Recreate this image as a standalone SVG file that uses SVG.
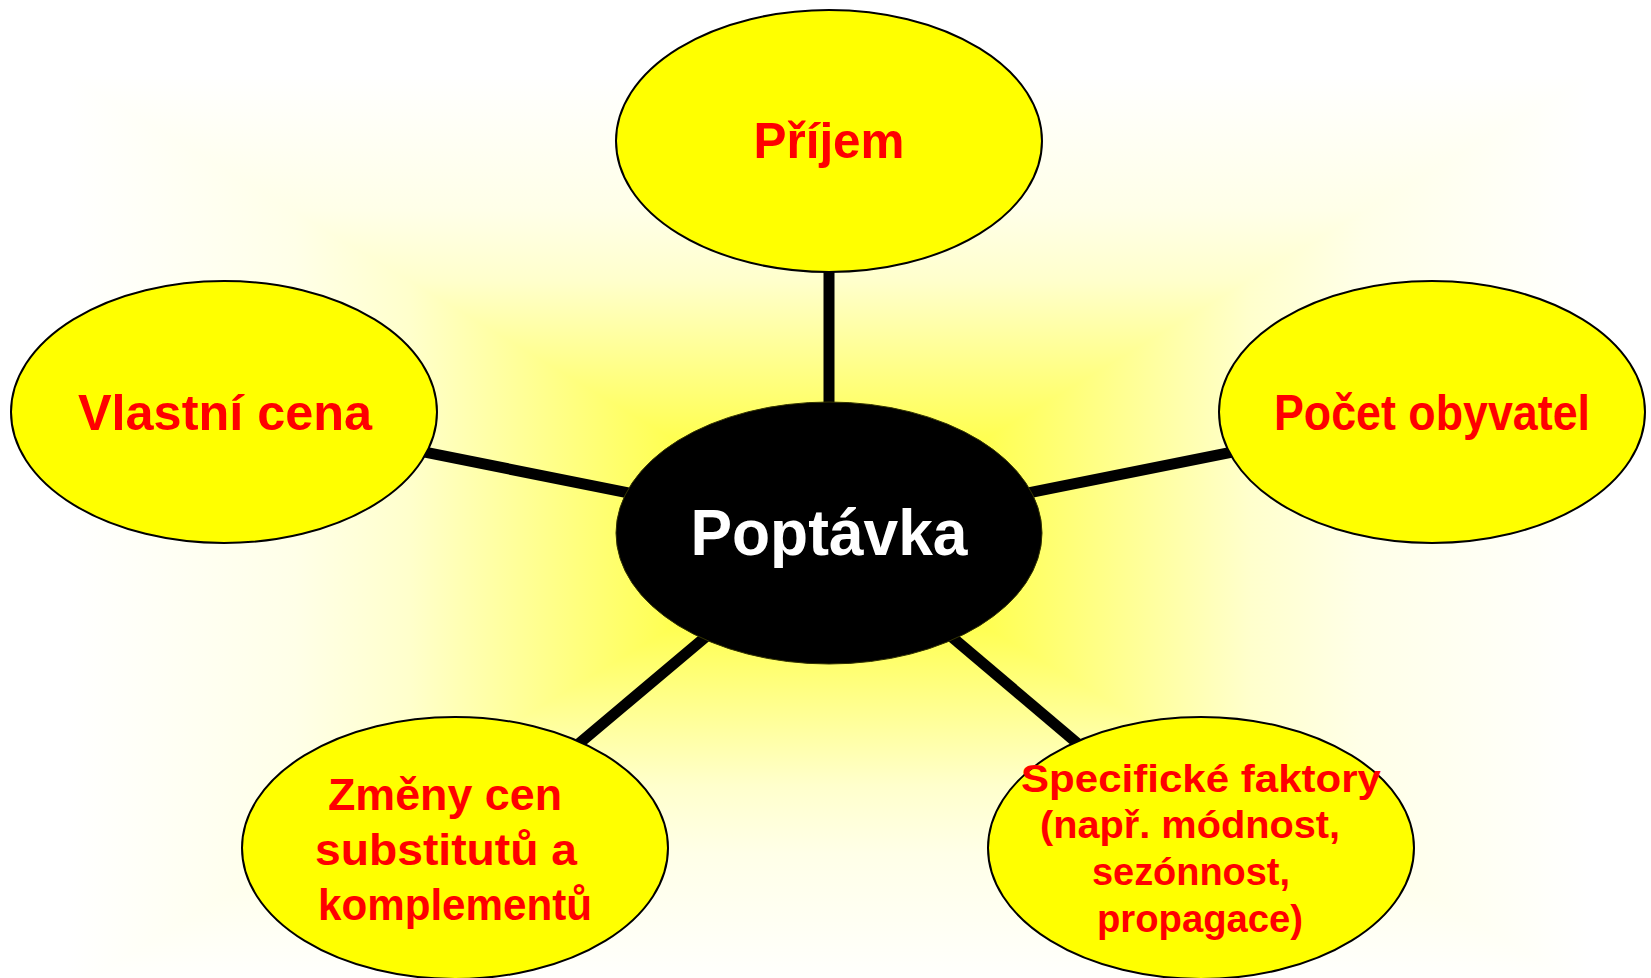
<svg xmlns="http://www.w3.org/2000/svg" width="1651" height="978" viewBox="0 0 1651 978">
  <defs>
    <linearGradient id="gV" gradientUnits="userSpaceOnUse" x1="0" y1="74" x2="0" y2="992">
      <stop offset="0" stop-color="#FFFFFF"/>
      <stop offset="0.15" stop-color="#FFFFE8"/>
      <stop offset="0.225" stop-color="#FFFFCC"/>
      <stop offset="0.325" stop-color="#FFFF85"/>
      <stop offset="0.4" stop-color="#FFFF50"/>
      <stop offset="0.5" stop-color="#FFFF20"/>
      <stop offset="0.6" stop-color="#FFFF50"/>
      <stop offset="0.675" stop-color="#FFFF85"/>
      <stop offset="0.775" stop-color="#FFFFCC"/>
      <stop offset="0.85" stop-color="#FFFFE8"/>
      <stop offset="1" stop-color="#FFFFFF"/>
    </linearGradient>
    <linearGradient id="gL" gradientUnits="userSpaceOnUse" x1="66" y1="0" x2="829" y2="0">
      <stop offset="0" stop-color="#FFFFFF"/>
      <stop offset="0.3" stop-color="#FFFFE8"/>
      <stop offset="0.45" stop-color="#FFFFCC"/>
      <stop offset="0.65" stop-color="#FFFF85"/>
      <stop offset="0.8" stop-color="#FFFF50"/>
      <stop offset="1" stop-color="#FFFF20"/>
    </linearGradient>
    <linearGradient id="gR" href="#gL" gradientUnits="userSpaceOnUse" x1="1592" y1="0" x2="829" y2="0"/>
    <style>
      .sat { fill: #FFFF00; stroke: #000000; stroke-width: 2; }
      .hub { fill: #000000; stroke: #333300; stroke-width: 1; }
      .lbl { font-family: "Liberation Sans", Arial, sans-serif; font-weight: bold; fill: #FF0000; text-anchor: middle; }
      .big { font-size: 50px; }
      .mid { font-size: 44px; }
      .sml { font-size: 38px; }
      .hubt { font-family: "Liberation Sans", Arial, sans-serif; font-weight: bold; fill: #FFFFFF; text-anchor: middle; font-size: 64px; }
      .conn { stroke: #000000; stroke-width: 11; fill: none; }
    </style>
  </defs>

  <rect x="0" y="0" width="1651" height="978" fill="#FFFFFF"/>
  <g id="background">
    <rect x="66" y="74" width="1526" height="918" fill="url(#gV)"/>
    <polygon points="66,74 829,533 66,992" fill="url(#gL)"/>
    <polygon points="1592,74 829,533 1592,992" fill="url(#gR)"/>
  </g>

  <g id="connectors">
    <line class="conn" x1="829" y1="533" x2="829" y2="141"/>
    <line class="conn" x1="829" y1="533" x2="224" y2="412"/>
    <line class="conn" x1="829" y1="533" x2="1432" y2="412"/>
    <line class="conn" x1="829" y1="533" x2="455" y2="848"/>
    <line class="conn" x1="829" y1="533" x2="1201" y2="848"/>
  </g>

  <g id="node-prijem">
    <ellipse class="sat" cx="829" cy="141" rx="213" ry="131"/>
    <text class="lbl big" x="829" y="158" textLength="151" lengthAdjust="spacingAndGlyphs">Příjem</text>
  </g>

  <g id="node-vlastni-cena">
    <ellipse class="sat" cx="224" cy="412" rx="213" ry="131"/>
    <text class="lbl big" x="225" y="430" textLength="294" lengthAdjust="spacingAndGlyphs">Vlastní cena</text>
  </g>

  <g id="node-pocet-obyvatel">
    <ellipse class="sat" cx="1432" cy="412" rx="213" ry="131"/>
    <text class="lbl big" x="1432" y="430" textLength="316" lengthAdjust="spacingAndGlyphs">Počet obyvatel</text>
  </g>

  <g id="node-poptavka">
    <ellipse class="hub" cx="829" cy="533" rx="213" ry="131"/>
    <text class="hubt" x="829" y="555" textLength="277" lengthAdjust="spacingAndGlyphs">Poptávka</text>
  </g>

  <g id="node-zmeny-cen">
    <ellipse class="sat" cx="455" cy="848" rx="213" ry="131"/>
    <text class="lbl mid" x="445" y="810" textLength="234" lengthAdjust="spacingAndGlyphs">Změny cen</text>
    <text class="lbl mid" x="446" y="865" textLength="262" lengthAdjust="spacingAndGlyphs">substitutů a</text>
    <text class="lbl mid" x="455" y="920" textLength="274" lengthAdjust="spacingAndGlyphs">komplementů</text>
  </g>

  <g id="node-specificke-faktory">
    <ellipse class="sat" cx="1201" cy="848" rx="213" ry="131"/>
    <text class="lbl sml" x="1201" y="792" textLength="360" lengthAdjust="spacingAndGlyphs">Specifické faktory</text>
    <text class="lbl sml" x="1190" y="838" textLength="300" lengthAdjust="spacingAndGlyphs">(např. módnost,</text>
    <text class="lbl sml" x="1191" y="885" textLength="198" lengthAdjust="spacingAndGlyphs">sezónnost,</text>
    <text class="lbl sml" x="1200" y="932" textLength="206" lengthAdjust="spacingAndGlyphs">propagace)</text>
  </g>
</svg>
